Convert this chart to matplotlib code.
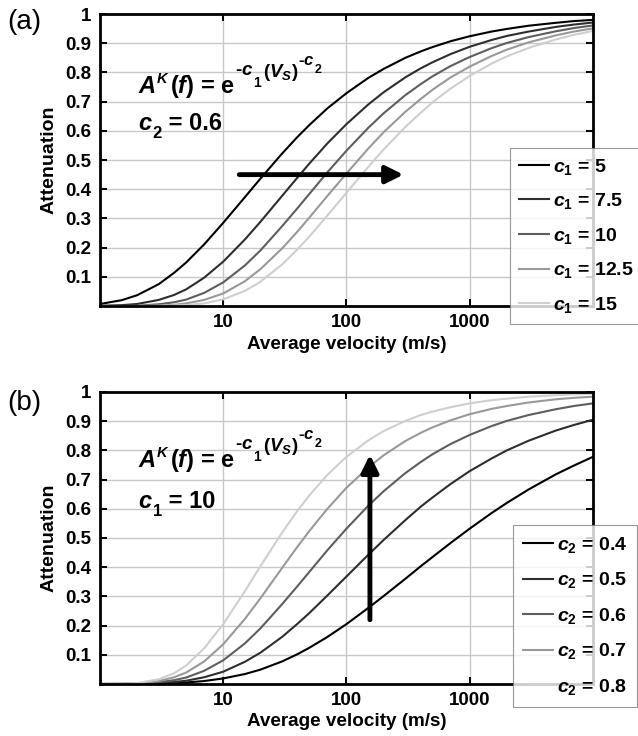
import numpy as np
import matplotlib
matplotlib.use('Agg')
import matplotlib.pyplot as plt

plt.rcParams['font.family'] = ['Liberation Sans', 'DejaVu Sans']
plt.rcParams['font.weight'] = 'bold'
plt.rcParams['mathtext.fontset'] = 'custom'
plt.rcParams['mathtext.rm'] = 'Liberation Sans:bold'
plt.rcParams['mathtext.it'] = 'Liberation Sans:italic:bold'
plt.rcParams['mathtext.bf'] = 'Liberation Sans:bold'

velocity = [1, 1.5, 2, 3, 4, 5, 7, 10, 15, 20, 30, 40, 50, 70, 100, 150, 200,
            300, 400, 500, 700, 1000, 1500, 2000, 3000, 5000, 7000, 10000]

# panel (a): c2 = 0.6, varying c1
c1_labels = ['5', '7.5', '10', '12.5', '15']
att_c1_5 = [0.007, 0.020, 0.037, 0.075, 0.114, 0.149, 0.211, 0.285, 0.373, 0.436,
            0.522, 0.579, 0.620, 0.677, 0.729, 0.781, 0.812, 0.850, 0.872, 0.887,
            0.907, 0.924, 0.940, 0.949, 0.960, 0.970, 0.976, 0.980]
att_c1_75 = [0.001, 0.003, 0.007, 0.021, 0.038, 0.057, 0.097, 0.152, 0.228, 0.288,
             0.377, 0.440, 0.488, 0.557, 0.623, 0.690, 0.732, 0.783, 0.814, 0.835,
             0.863, 0.888, 0.911, 0.925, 0.940, 0.956, 0.964, 0.971]
att_c1_10 = [0.000, 0.000, 0.001, 0.006, 0.013, 0.022, 0.045, 0.081, 0.139, 0.190,
             0.273, 0.335, 0.384, 0.458, 0.532, 0.610, 0.660, 0.722, 0.760, 0.787,
             0.822, 0.853, 0.883, 0.901, 0.921, 0.941, 0.952, 0.961]
att_c1_125 = [0.000, 0.000, 0.000, 0.002, 0.004, 0.009, 0.021, 0.043, 0.085, 0.126,
              0.197, 0.255, 0.303, 0.377, 0.454, 0.539, 0.595, 0.665, 0.709, 0.741,
              0.783, 0.820, 0.856, 0.878, 0.903, 0.927, 0.940, 0.951]
att_c1_15 = [0.000, 0.000, 0.000, 0.000, 0.002, 0.003, 0.009, 0.023, 0.052, 0.083,
             0.142, 0.194, 0.238, 0.310, 0.388, 0.476, 0.536, 0.613, 0.662, 0.698,
             0.745, 0.788, 0.830, 0.855, 0.884, 0.913, 0.929, 0.942]

# panel (b): c1 = 10, varying c2
c2_labels = ['0.4', '0.5', '0.6', '0.7', '0.8']
att_c2_04 = [0.000, 0.000, 0.001, 0.002, 0.003, 0.005, 0.010, 0.019, 0.034, 0.049,
             0.077, 0.102, 0.124, 0.161, 0.205, 0.260, 0.301, 0.360, 0.403, 0.435,
             0.483, 0.532, 0.585, 0.620, 0.666, 0.718, 0.748, 0.778]
att_c2_05 = [0.000, 0.000, 0.001, 0.003, 0.007, 0.011, 0.023, 0.042, 0.076, 0.107,
             0.161, 0.206, 0.243, 0.303, 0.368, 0.442, 0.493, 0.561, 0.607, 0.639,
             0.685, 0.729, 0.772, 0.800, 0.833, 0.868, 0.887, 0.905]
att_c2_06 = [0.000, 0.000, 0.001, 0.006, 0.013, 0.022, 0.045, 0.081, 0.139, 0.190,
             0.273, 0.335, 0.384, 0.458, 0.532, 0.610, 0.660, 0.722, 0.760, 0.787,
             0.822, 0.853, 0.883, 0.901, 0.921, 0.941, 0.952, 0.961]
att_c2_07 = [0.000, 0.001, 0.002, 0.010, 0.023, 0.039, 0.077, 0.136, 0.223, 0.293,
             0.397, 0.470, 0.524, 0.600, 0.672, 0.741, 0.783, 0.832, 0.860, 0.879,
             0.903, 0.924, 0.942, 0.952, 0.964, 0.975, 0.980, 0.984]
att_c2_08 = [0.000, 0.001, 0.003, 0.016, 0.037, 0.063, 0.122, 0.205, 0.318, 0.403,
             0.518, 0.593, 0.646, 0.716, 0.778, 0.834, 0.866, 0.901, 0.921, 0.933,
             0.948, 0.961, 0.972, 0.977, 0.984, 0.989, 0.992, 0.994]

grays = ['#000000', '#2e2e2e', '#5e5e5e', '#999999', '#cfcfcf']

fig = plt.figure(figsize=(6.38, 7.36), dpi=100)
ax1 = fig.add_axes([0.1567, 0.5842, 0.7727, 0.3967])
ax2 = fig.add_axes([0.1567, 0.0707, 0.7727, 0.3967])
renderer = fig.canvas.get_renderer()


def style_axes(ax):
    ax.set_xscale('log')
    ax.set_xlim(1, 10000)
    ax.set_ylim(0, 1)
    ax.set_xticks([10, 100, 1000])
    ax.set_xticklabels(['10', '100', '1000'])
    ax.minorticks_off()
    ax.set_yticks([0.1, 0.2, 0.3, 0.4, 0.5, 0.6, 0.7, 0.8, 0.9, 1.0])
    ax.set_yticklabels(['0.1', '0.2', '0.3', '0.4', '0.5', '0.6', '0.7', '0.8', '0.9', '1'])
    ax.grid(True, color='#c8c8c8', lw=1.0)
    ax.set_axisbelow(True)
    ax.tick_params(direction='in', length=5, width=1.4, top=True, right=True,
                   labelsize=13.5, pad=6)
    for s in ax.spines.values():
        s.set_linewidth(2.0)
    ax.set_ylabel('Attenuation', fontsize=14, fontweight='bold', labelpad=6)
    ax.set_xlabel('Average velocity (m/s)', fontsize=13.6, fontweight='bold', labelpad=3)


def rich_text(ax, x, y, pieces):
    # pieces: (text, fontsize, vertical offset px, extra kern px), left to right
    dx = 0
    for s, size, dy, kern in pieces:
        t = ax.annotate(s, xy=(x, y), xycoords='axes fraction', xytext=(dx, dy),
                        textcoords='offset pixels', fontsize=size, fontweight='bold',
                        ha='left', va='baseline')
        dx += t.get_window_extent(renderer=renderer).width + kern


formula = [(r'$A$', 17, 0, 0), (r'$K$', 10.5, 10, 1), (r'($f$) = e', 17, 0, 0),
           (r'-$c$', 13.5, 18, 0), ('1', 10, 6, 2), (r'($V_S$)', 13.5, 16, 0),
           (r'-$c$', 12, 28, 0), ('2', 9, 20, 0)]

# (a)
series_a = [att_c1_5, att_c1_75, att_c1_10, att_c1_125, att_c1_15]
for vals, lab, col in zip(series_a, c1_labels, grays):
    ax1.plot(velocity, vals, color=col, lw=1.5, label=r'$c_1$ = ' + lab)
style_axes(ax1)
ax1.annotate('', xy=(290, 0.45), xytext=(13.5, 0.45),
             arrowprops=dict(arrowstyle='-|>', lw=3.5, color='k', mutation_scale=26,
                             shrinkA=0, shrinkB=0))
rich_text(ax1, 0.077, 0.73, formula)
rich_text(ax1, 0.077, 0.603, [(r'$c$', 17, 0, 0), ('2', 12, -8, 0), (' = 0.6', 17, 0, 0)])
fig.text(0.012, 0.970, '(a)', fontsize=20, fontweight='normal', va='center')
leg1 = fig.legend(handles=ax1.get_lines(), loc='upper left', bbox_to_anchor=(0.799, 0.799),
                  fontsize=14, frameon=True, fancybox=False, edgecolor='#808080',
                  handlelength=1.55, handletextpad=0.2, labelspacing=0.75,
                  borderpad=0.45, borderaxespad=0)
leg1.get_frame().set_linewidth(0.8)

# (b)
series_b = [att_c2_04, att_c2_05, att_c2_06, att_c2_07, att_c2_08]
for vals, lab, col in zip(series_b, c2_labels, grays):
    ax2.plot(velocity, vals, color=col, lw=1.5, label=r'$c_2$ = ' + lab)
style_axes(ax2)
ax2.annotate('', xy=(155, 0.785), xytext=(155, 0.22),
             arrowprops=dict(arrowstyle='-|>', lw=3.5, color='k', mutation_scale=26,
                             shrinkA=0, shrinkB=0))
rich_text(ax2, 0.077, 0.743, formula)
rich_text(ax2, 0.077, 0.603, [(r'$c$', 17, 0, 0), ('1', 12, -8, 0), (' = 10', 17, 0, 0)])
fig.text(0.012, 0.452, '(b)', fontsize=20, fontweight='normal', va='center')
leg2 = fig.legend(handles=ax2.get_lines(), loc='upper left', bbox_to_anchor=(0.804, 0.2866),
                  fontsize=14, frameon=True, fancybox=False, edgecolor='#808080',
                  handlelength=1.55, handletextpad=0.2, labelspacing=0.8,
                  borderpad=0.5, borderaxespad=0)
leg2.get_frame().set_linewidth(0.8)

fig.savefig('out.png', dpi=100)
